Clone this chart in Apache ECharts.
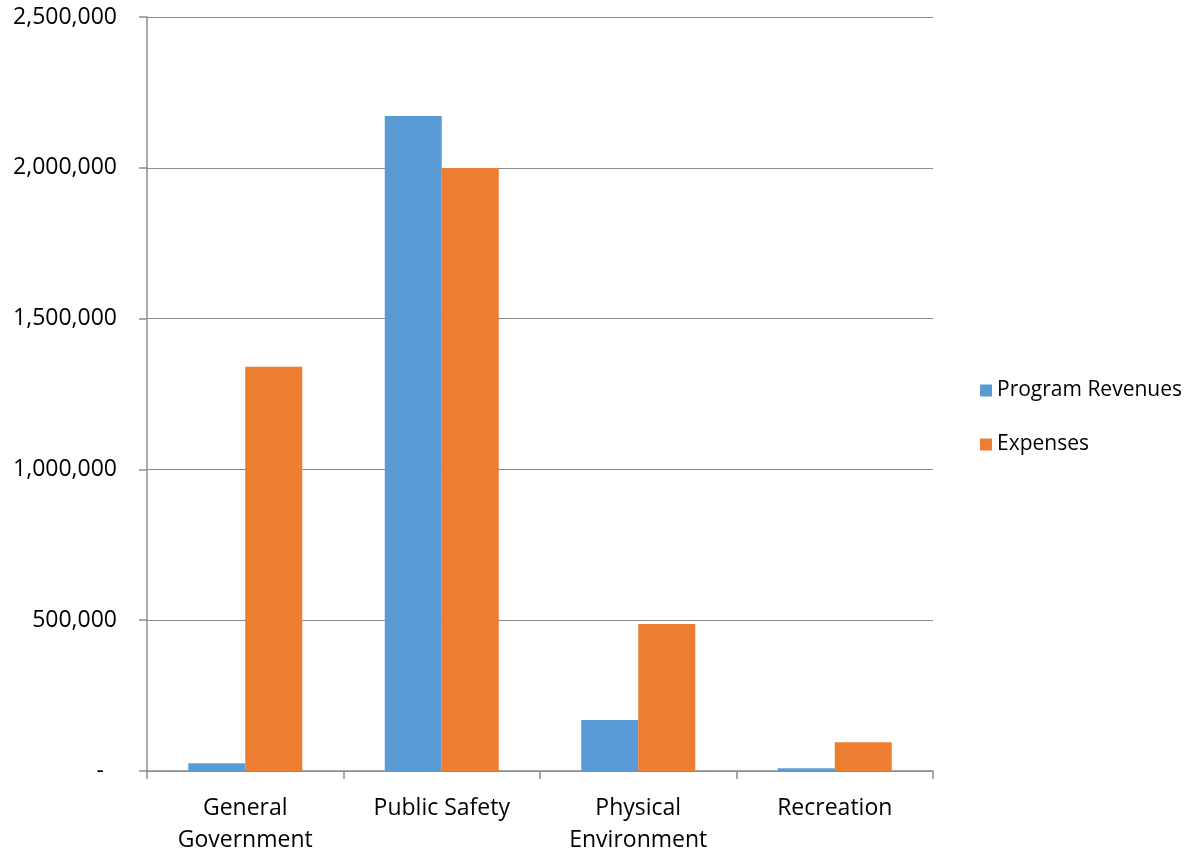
<!DOCTYPE html>
<html><head><meta charset="utf-8">
<script src="https://cdn.jsdelivr.net/npm/echarts@6/dist/echarts.min.js"></script>
<style>html,body{margin:0;padding:0;background:#fff}#c{width:1192px;height:856px}</style>
</head><body><div id="c"></div>
<script>
const categories = ['General\nGovernment', 'Public Safety', 'Physical\nEnvironment', 'Recreation'];
const programRevenues = [26000, 2172000, 169000, 9000];
const expenses = [1340000, 1999000, 487000, 95000];
const seriesNames = ['Program Revenues', 'Expenses'];
const yTicks = [0, 500000, 1000000, 1500000, 2000000, 2500000];

const font = 'Open Sans';
const chart = echarts.init(document.getElementById('c'));
chart.setOption({
  animation: false,
  textStyle: { fontFamily: font },
  grid: { left: 147, right: 259, top: 17, bottom: 85, containLabel: false },
  legend: {
    orient: 'vertical', left: 975, top: 375,
    itemWidth: 12, itemHeight: 12, itemGap: 33,
    icon: 'rect',
    textStyle: { fontSize: 21, color: '#000', fontFamily: font },
    data: seriesNames
  },
  xAxis: {
    type: 'category', data: categories,
    axisLine: { lineStyle: { color: '#8c8c8c', width: 1.5 } },
    axisTick: { show: true, length: 8, lineStyle: { color: '#8c8c8c', width: 1.5 } },
    axisLabel: { fontSize: 23, color: '#000', margin: 21, lineHeight: 32, fontFamily: font }
  },
  yAxis: {
    type: 'value', min: 0, max: 2500000, interval: 500000,
    axisLine: { show: true, lineStyle: { color: '#8c8c8c', width: 1.5 } },
    axisTick: { show: true, length: 8, lineStyle: { color: '#8c8c8c', width: 1.5 } },
    splitLine: { lineStyle: { color: '#8c8c8c', width: 1.2 } },
    axisLabel: {
      fontSize: 23, color: '#000', margin: 30, fontFamily: font,
      formatter: v => v === 0 ? '{d|-}' : v.toLocaleString('en-US'),
      rich: { d: { fontSize: 23, color: '#000', padding: [0, 13, 0, 0], fontFamily: font } }
    }
  },
  series: [
    { name: seriesNames[0], type: 'bar', data: programRevenues, itemStyle: { color: '#5b9bd5' }, barGap: '0%', barCategoryGap: '42%' },
    { name: seriesNames[1], type: 'bar', data: expenses, itemStyle: { color: '#ed7d31' }, barGap: '0%', barCategoryGap: '42%' }
  ]
});
</script></body></html>
